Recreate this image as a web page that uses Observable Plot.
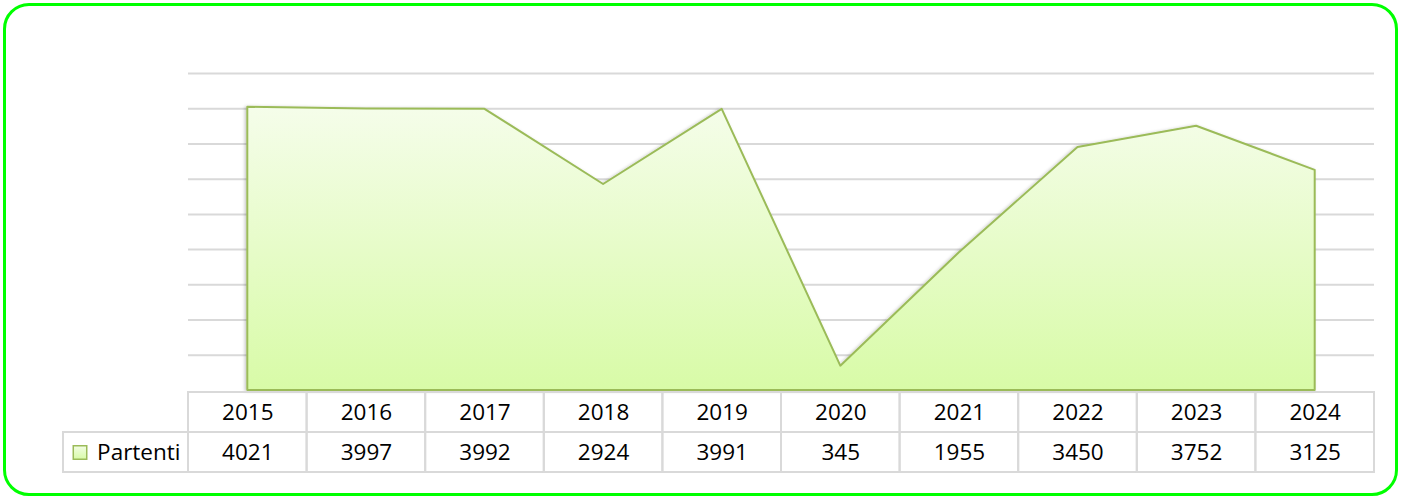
<!DOCTYPE html>
<html><head><meta charset="utf-8">
<script src="https://cdn.jsdelivr.net/npm/d3@7"></script>
<script src="https://cdn.jsdelivr.net/npm/@observablehq/plot@0.6"></script>
<style>
html,body{margin:0;padding:0;background:#fff;}
#wrap{position:relative;width:1402px;height:497px;overflow:hidden;background:#fff;font-family:"Open Sans",Lato,sans-serif;}
#frame{position:absolute;left:3px;top:3px;width:1395px;height:493px;box-sizing:border-box;border:3px solid #00ff00;border-radius:26px;pointer-events:none;}
#chart{position:absolute;left:0;top:0;}
#table{position:absolute;left:0;top:388px;}
</style>
</head><body>
<div id="wrap"><div id="chart"></div><div id="table"></div><div id="frame"></div></div>
<script>
const years = [2015, 2016, 2017, 2018, 2019, 2020, 2021, 2022, 2023, 2024];
const values = [4021, 3997, 3992, 2924, 3991, 345, 1955, 3450, 3752, 3125];
const seriesName = "Partenti";
const gridTicks = [500, 1000, 1500, 2000, 2500, 3000, 3500, 4000, 4500];

const data = years.map((year, i) => ({i, year, value: values[i]}));

const defs = () => {
  const s = d3.create("svg:defs");
  const g = s.append("linearGradient").attr("id", "gfill")
    .attr("x1", 0).attr("y1", 0).attr("x2", 0).attr("y2", 1);
  g.append("stop").attr("offset", "0%").attr("stop-color", "#f5fdea");
  g.append("stop").attr("offset", "100%").attr("stop-color", "#d8fba7");
  const lg = s.append("linearGradient").attr("id", "lfill")
    .attr("x1", 0).attr("y1", 0).attr("x2", 0).attr("y2", 1);
  lg.append("stop").attr("offset", "0%").attr("stop-color", "#f2fde4");
  lg.append("stop").attr("offset", "100%").attr("stop-color", "#d8fba7");
  const f = s.append("filter").attr("id", "shadow")
    .attr("x", "-5%").attr("y", "-5%").attr("width", "110%").attr("height", "110%");
  f.append("feDropShadow").attr("dx", -1.5).attr("dy", 0.5)
    .attr("stdDeviation", 1.5).attr("flood-color", "#000").attr("flood-opacity", 0.22);
  return s.node();
};

const xOpts = {type: "linear", domain: [-0.5, 9.5], axis: null};

const chart = Plot.plot({
  width: 1402, height: 391,
  marginLeft: 188, marginRight: 28, marginTop: 73, marginBottom: 1,
  x: xOpts,
  y: {domain: [0, 4500], axis: null},
  style: {background: "transparent", overflow: "visible"},
  marks: [
    defs,
    Plot.ruleY(gridTicks, {stroke: "#d9d9d9", strokeWidth: 2}),
    Plot.areaY(data, {x: "i", y: "value", fill: "url(#gfill)", stroke: "#9bbb59", strokeWidth: 2})
  ]
});
d3.select(chart).selectAll('g[aria-label="area"] path').attr("filter", "url(#shadow)");
document.getElementById("chart").append(chart);

const font = "'Open Sans', Lato, sans-serif";
const fs = 22.5;
const table = Plot.plot({
  width: 1402, height: 87,
  marginLeft: 188, marginRight: 28, marginTop: 3, marginBottom: 3,
  x: xOpts,
  y: {type: "band", domain: ["h", "v"], padding: 0, axis: null},
  style: {background: "transparent", fontFamily: font, fontSize: fs + "px", overflow: "visible"},
  marks: [
    defs,
    Plot.barX(data, {x1: d => d.i - 0.5, x2: d => d.i + 0.5, y: () => "h", fill: "none", stroke: "#d9d9d9", strokeWidth: 2}),
    Plot.barX(data, {x1: d => d.i - 0.5, x2: d => d.i + 0.5, y: () => "v", fill: "none", stroke: "#d9d9d9", strokeWidth: 2}),
    Plot.barX([seriesName], {x1: -1.554, x2: -0.5, y: () => "v", fill: "none", stroke: "#d9d9d9", strokeWidth: 2}),
    Plot.text(data, {x: "i", y: () => "h", text: d => String(d.year), fontSize: fs, fill: "#000"}),
    Plot.text(data, {x: "i", y: () => "v", text: d => String(d.value), fontSize: fs, fill: "#000"}),
    Plot.text([seriesName], {x: -0.5, y: () => "v", text: d => d, textAnchor: "end", dx: -8, fontSize: fs, fill: "#000"}),
    Plot.dot([seriesName], {x: -0.5, y: () => "v", dx: -108.5, symbol: "square", r: 7.6, fill: "url(#lfill)", stroke: "#9bbb59", strokeWidth: 1.5})
  ]
});
document.getElementById("table").append(table);
</script>
</body></html>
